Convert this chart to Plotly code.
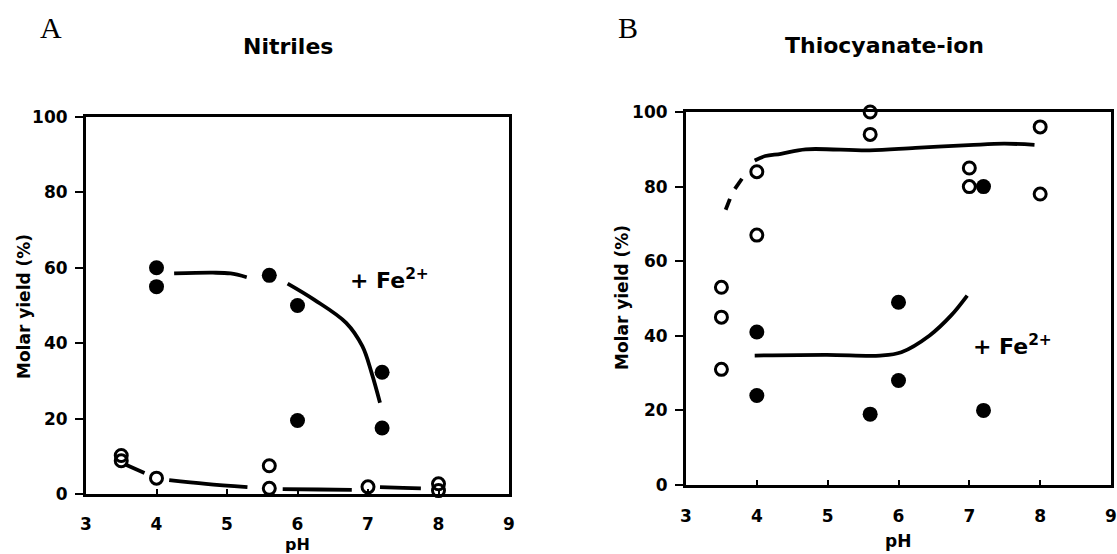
import plotly.graph_objects as go

# ---------------- data ----------------
# Panel A: Nitriles
a_fe_x = [4.0, 4.0, 5.6, 6.0, 6.0, 7.2, 7.2]
a_fe_y = [60, 55, 58, 50, 19.5, 32.3, 17.5]
a_no_x = [3.5, 3.5, 4.0, 5.6, 5.6, 7.0, 8.0, 8.0]
a_no_y = [10.2, 8.8, 4.2, 7.5, 1.5, 1.9, 2.7, 0.9]
# fitted curves (segments separated by None)
a_fe_curve_x = [4.25, 4.8, 5.05, 5.28, None, 5.86, 6.24, 6.69, 6.92, 7.05, 7.17]
a_fe_curve_y = [58.5, 58.7, 58.5, 57.5, None, 55.8, 51.5, 45.4, 39.2, 32.2, 24.2]
a_no_curve_x = [3.55, 3.83, None, 4.18, 4.7, 5.29, None, 5.79, 6.3, 6.77, None, 7.17, 7.5, 7.75]
a_no_curve_y = [7.9, 5.6, None, 3.7, 2.7, 1.8, None, 1.3, 1.2, 1.1, None, 1.8, 1.6, 1.5]

# Panel B: Thiocyanate-ion
b_no_x = [3.5, 3.5, 3.5, 4.0, 4.0, 5.6, 5.6, 7.0, 7.0, 8.0, 8.0]
b_no_y = [53, 45, 31, 84, 67, 100, 94, 85, 80, 96, 78]
b_fe_x = [4.0, 4.0, 5.6, 6.0, 6.0, 7.2, 7.2]
b_fe_y = [41, 24, 19, 49, 28, 80, 20]
b_no_dash_x = [3.56, 3.62, None, 3.69, 3.79]
b_no_dash_y = [73.8, 76.7, None, 79.4, 82.1]
b_no_curve_x = [3.97, 4.12, 4.34, 4.69, 5.59, 6.24, 6.99, 7.49, 7.92]
b_no_curve_y = [87.0, 88.2, 88.8, 90.0, 89.7, 90.4, 91.1, 91.5, 91.2]
b_fe_curve_x = [3.97, 4.99, 5.74, 6.04, 6.44, 6.74, 6.97]
b_fe_curve_y = [34.7, 34.9, 34.7, 35.6, 40.1, 45.4, 50.8]

x_ticks = [3, 4, 5, 6, 7, 8, 9]
y_ticks = [0, 20, 40, 60, 80, 100]

W, H = 1117, 554
FONT = "DejaVu Sans"

fig = go.Figure()

def curve(x, y, xa, ya):
    fig.add_trace(go.Scatter(x=x, y=y, mode="lines", xaxis=xa, yaxis=ya,
                             line=dict(color="black", width=3.8, shape="spline"),
                             connectgaps=False, showlegend=False, hoverinfo="skip"))

def pts(x, y, xa, ya, filled, size):
    if filled:
        m = dict(symbol="circle", size=size, color="black", line=dict(color="black", width=0))
    else:
        m = dict(symbol="circle-open", size=size, color="black", line=dict(color="black", width=3))
    fig.add_trace(go.Scatter(x=x, y=y, mode="markers", xaxis=xa, yaxis=ya, marker=m,
                             cliponaxis=False, showlegend=False))

# Panel A
curve(a_fe_curve_x, a_fe_curve_y, "x", "y")
curve(a_no_curve_x, a_no_curve_y, "x", "y")
pts(a_fe_x, a_fe_y, "x", "y", True, 15)
pts(a_no_x, a_no_y, "x", "y", False, 12)

# Panel B
curve(b_no_dash_x, b_no_dash_y, "x2", "y2")
curve(b_no_curve_x, b_no_curve_y, "x2", "y2")
curve(b_fe_curve_x, b_fe_curve_y, "x2", "y2")
pts(b_no_x, b_no_y, "x2", "y2", False, 12)
pts(b_fe_x, b_fe_y, "x2", "y2", True, 15)

def px_x(p):
    return p / W

def px_y(p):
    return 1 - p / H

tickfont = dict(family=FONT, size=17, color="black", weight="bold")
xcommon = dict(range=[3, 9], tickvals=x_ticks, ticks="inside", ticklen=5, tickwidth=2,
               tickcolor="black", showgrid=False, zeroline=False, showline=True, mirror=True,
               linecolor="black", linewidth=3, tickfont=tickfont,
               fixedrange=True, automargin=False)
ycommon = dict(range=[0, 100], tickvals=y_ticks, ticks="outside", ticklen=8, tickwidth=2,
               tickcolor="black", showgrid=False, zeroline=False, showline=True, mirror=True,
               linecolor="black", linewidth=3, tickfont=tickfont, ticklabelstandoff=4,
               fixedrange=True, automargin=False)

fig.update_layout(
    width=W, height=H, autosize=False,
    margin=dict(l=0, r=0, t=0, b=0, pad=0, autoexpand=False),
    paper_bgcolor="white", plot_bgcolor="white",
    xaxis=dict(domain=[px_x(86), px_x(509)], anchor="y", ticklabelstandoff=13, **xcommon),
    yaxis=dict(domain=[px_y(494), px_y(117)], anchor="x", **ycommon),
    xaxis2=dict(domain=[px_x(686), px_x(1111)], anchor="y2", ticklabelstandoff=14, **xcommon),
    yaxis2=dict(domain=[px_y(485), px_y(112)], anchor="x2", **ycommon),
    showlegend=False,
)

bold = dict(family=FONT, size=17, color="black", weight="bold")
ann = []
def text(t, x, y, font, angle=0):
    ann.append(dict(text=t, x=px_x(x), y=px_y(y), xref="paper", yref="paper",
                    showarrow=False, xanchor="center", yanchor="middle",
                    font=font, textangle=angle))

serif = dict(family="Liberation Serif", size=30, color="black")
title_font = dict(family=FONT, size=22, color="black", weight="bold")
text("A", 51, 27, serif)
text("B", 628, 27, serif)
text("Nitriles", 288, 47, title_font)
text("Thiocyanate-ion", 884, 45, title_font)
text("Molar yield (%)", 24, 307, bold, -90)
text("Molar yield (%)", 622, 298, bold, -90)
text("pH", 297, 544, dict(family=FONT, size=16, color="black", weight="bold"))
text("pH", 898, 541, bold)

fe_font = dict(family=FONT, size=22, color="black", weight="bold")
ann.append(dict(text="+ Fe<sup>2+</sup>", x=6.72, y=57, xref="x", yref="y",
                showarrow=False, xanchor="left", yanchor="middle", font=fe_font))
ann.append(dict(text="+ Fe<sup>2+</sup>", x=7.03, y=37.5, xref="x2", yref="y2",
                showarrow=False, xanchor="left", yanchor="middle", font=fe_font))

fig.update_layout(annotations=ann)

fig.write_html("out.html",
               config={"displayModeBar": False, "staticPlot": True},
               post_script="document.body.style.margin='0';document.body.style.overflow='hidden';")
